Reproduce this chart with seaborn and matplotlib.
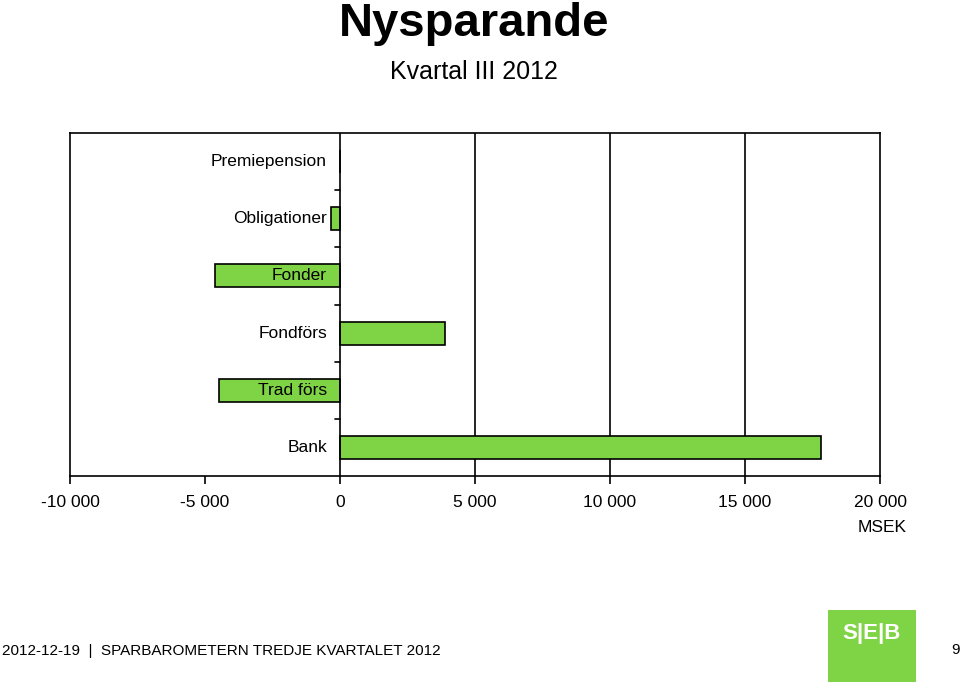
import matplotlib
matplotlib.use("Agg")
import matplotlib.pyplot as plt
import matplotlib.transforms as mtransforms
from matplotlib import font_manager
import seaborn as sns
import pandas as pd

categories = ["Premiepension", "Obligationer", "Fonder", "Fondförs", "Trad förs", "Bank"]
values = [0, -330, -4640, 3890, -4490, 17800]
xticks = [-10000, -5000, 0, 5000, 10000, 15000, 20000]
xtick_labels = ["-10 000", "-5 000", "0", "5 000", "10 000", "15 000", "20 000"]

sns.set_theme(style="white")
avail = {f.name for f in font_manager.fontManager.ttflist}
narrow = "Liberation Sans Narrow" if "Liberation Sans Narrow" in avail else "Liberation Sans"
plt.rcParams["font.family"] = [narrow, "DejaVu Sans"]
plt.rcParams["text.color"] = "black"
plt.rcParams["xtick.color"] = "black"
plt.rcParams["xtick.labelcolor"] = "black"

GREEN = "#7FD445"

df = pd.DataFrame({"cat": categories, "val": values})

fig = plt.figure(figsize=(9.6, 6.84), dpi=100)
ax = fig.add_axes([70/960, 1-476/684, 810/960, 343/684])

sns.barplot(data=df, y="cat", x="val", orient="h", ax=ax, color=GREEN,
            edgecolor="black", linewidth=1.2, width=0.4, saturation=1)

ax.set_xlim(-10000, 20000)
ax.set_ylim(len(categories) - 0.5, -0.5)
ax.set_xlabel("")
ax.set_ylabel("")
ax.set_yticks([])
ax.set_xticks(xticks)
ax.set_xticklabels(xtick_labels, fontsize=12.5, color="black")
ax.tick_params(axis="x", bottom=True, direction="out", length=6, width=1.2,
               color="black", pad=8)

for s in ["left", "right", "top", "bottom"]:
    ax.spines[s].set_visible(True)
    ax.spines[s].set_color("black")
    ax.spines[s].set_linewidth(1.2)

for xv in [5000, 10000, 15000]:
    ax.axvline(xv, color="black", lw=1.2, zorder=0)
ax.axvline(0, color="black", lw=1.2, zorder=3)

# tick marks on zero axis between categories
for i in range(len(categories) - 1):
    ax.plot([-170, 0], [i + 0.5, i + 0.5], color="black", lw=1.2, zorder=3)

# category labels inside the plot, right-aligned near zero
offset = mtransforms.offset_copy(ax.transData, fig=fig, x=-13, y=0, units="dots")
for i, c in enumerate(categories):
    ax.text(0, i, c, transform=offset, ha="right", va="center", fontsize=12.5,
            color="black", zorder=4)

fig.text(907/960, 1-527/684, "MSEK", ha="right", va="center", fontsize=12.5, color="black")

fig.text(474/960, 1-24/684, "Nysparande", ha="center", va="center", fontsize=34,
         fontweight="bold", color="black", family=["Liberation Sans", "DejaVu Sans"])
fig.text(474/960, 1-72/684, "Kvartal III 2012", ha="center", va="center", fontsize=18,
         color="black", family=["Liberation Sans", "DejaVu Sans"])

fig.text(2/960, 1-651/684, "2012-12-19  |  SPARBAROMETERN TREDJE KVARTALET 2012",
         ha="left", va="center", fontsize=11, color="black",
         family=["Liberation Sans", "DejaVu Sans"])
fig.text(955/960, 1-650/684, "9", ha="center", va="center", fontsize=11, color="black",
         family=["Liberation Sans", "DejaVu Sans"])

logo = fig.add_axes([828/960, 1-682/684, 88/960, 72/684])
logo.set_facecolor(GREEN)
logo.set_xticks([]); logo.set_yticks([])
for s in logo.spines.values():
    s.set_visible(False)
logo.text(0.5, 0.68, "S|E|B", ha="center", va="center", color="white", fontsize=16,
          fontweight="bold", family=["Liberation Sans", "DejaVu Sans"], transform=logo.transAxes)

fig.savefig("out.png", dpi=100)
